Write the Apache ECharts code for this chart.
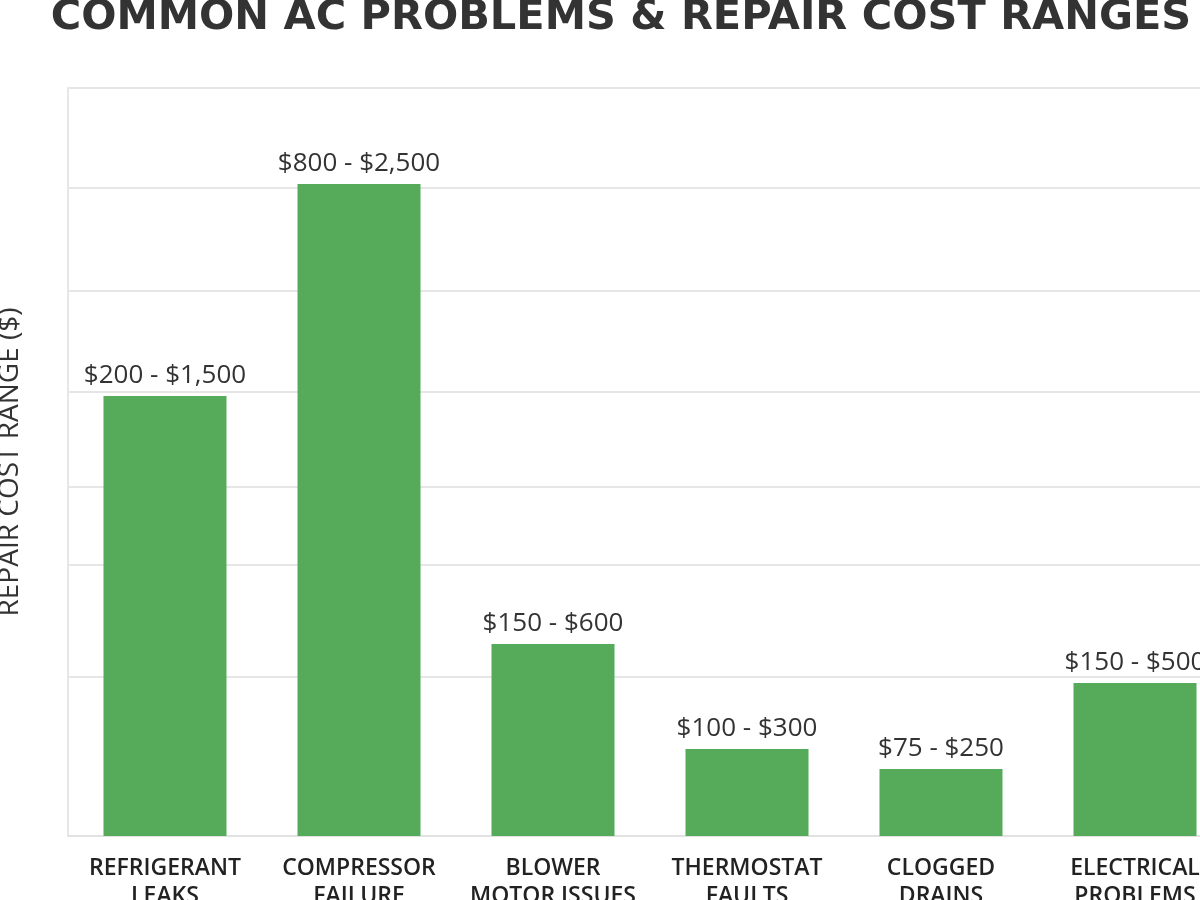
<!DOCTYPE html>
<html>
<head>
<meta charset="utf-8">
<script src="https://cdn.jsdelivr.net/npm/echarts@6/dist/echarts.min.js"></script>
<style>
html,body{margin:0;padding:0;background:#fff;}
#chart{width:1200px;height:900px;}
</style>
</head>
<body>
<div id="chart"></div>
<script>
// Categories (x axis)
const categories = [
  'REFRIGERANT\nLEAKS',
  'COMPRESSOR\nFAILURE',
  'BLOWER\nMOTOR ISSUES',
  'THERMOSTAT\nFAULTS',
  'CLOGGED\nDRAINS',
  'ELECTRICAL\nPROBLEMS'
];
// Range labels shown above bars
const rangeLabels = ['$200 - $1,500', '$800 - $2,500', '$150 - $600', '$100 - $300', '$75 - $250', '$150 - $500'];
// Bar heights (in $ on an unlabeled axis)
const barValues = [1647, 2441, 719, 326, 251, 573];
// Horizontal guide lines (uneven spacing)
const gridValues = [595, 1014, 1306, 1662, 2040, 2426, 2800];
const yMax = 2800;

const FONT = '"Open Sans", Lato, sans-serif';
const chart = echarts.init(document.getElementById('chart'));
chart.setOption({
  backgroundColor: '#ffffff',
  animation: false,
  title: {
    text: 'COMMON AC PROBLEMS & REPAIR COST RANGES',
    left: 616,
    textAlign: 'center',
    top: -8,
    textStyle: { fontFamily: '"DejaVu Sans", sans-serif', fontSize: 41.5, fontWeight: 'bold', color: '#333333' }
  },
  grid: { left: 68, right: -32, top: 88, bottom: 64, containLabel: false, outerBoundsMode: 'none' },
  xAxis: {
    type: 'category',
    data: categories,
    axisLine: { show: true, lineStyle: { color: '#e2e2e2', width: 2 } },
    axisTick: { show: false },
    axisLabel: {
      margin: 18,
      fontFamily: FONT,
      fontSize: 23,
      fontWeight: 600,
      color: '#222222',
      lineHeight: 28,
      interval: 0
    }
  },
  yAxis: {
    type: 'value',
    min: 0,
    max: yMax,
    name: 'REPAIR COST RANGE ($)',
    nameLocation: 'middle',
    nameGap: 44,
    nameTextStyle: { fontFamily: FONT, fontSize: 28, color: '#333333', fontWeight: 500 },
    axisLine: { show: true, lineStyle: { color: '#e6e6e6', width: 2 } },
    axisTick: { show: false },
    axisLabel: { show: false },
    splitLine: { show: false }
  },
  series: [
    {
      type: 'line',
      data: [],
      z: 1,
      silent: true,
      markLine: {
        z: 1,
        silent: true,
        symbol: ['none', 'none'],
        label: { show: false },
        lineStyle: { color: '#e6e6e6', type: 'solid', width: 2 },
        data: gridValues.map(v => ({ yAxis: v }))
      }
    },
    {
      type: 'bar',
      z: 3,
      data: barValues,
      barWidth: 123,
      itemStyle: { color: '#55ab5a' },
      label: {
        show: true,
        position: 'top',
        distance: 7,
        fontFamily: FONT,
        fontSize: 26,
        fontWeight: 500,
        color: '#333333',
        formatter: p => rangeLabels[p.dataIndex]
      }
    }
  ]
});
</script>
</body>
</html>
